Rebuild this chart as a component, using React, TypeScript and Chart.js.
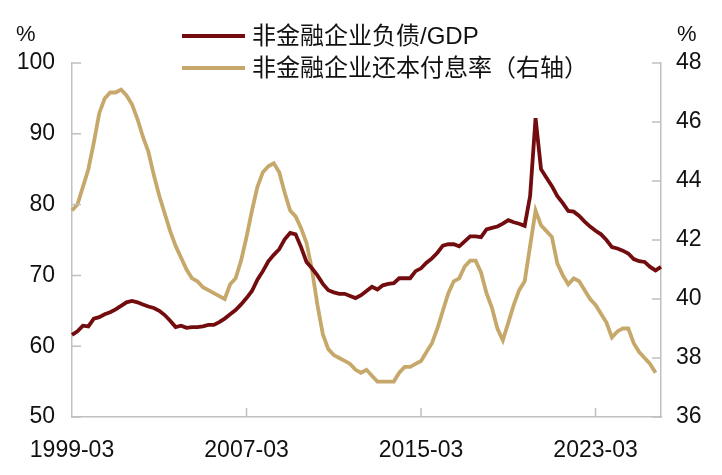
import { useEffect, useRef } from "react";
import { Chart, registerables } from "chart.js";

Chart.register(...registerables);

// Quarterly categories 1999-03 .. 2026-03
const START_YEAR = 1999;
const END_YEAR = 2026;
const MONTHS = ["03", "06", "09", "12"];
const CATEGORIES: string[] = [];
for (let y = START_YEAR; y <= END_YEAR; y++) {
  for (const m of MONTHS) {
    if (y === END_YEAR && m !== "03") break;
    CATEGORIES.push(`${y}-${m}`);
  }
}

const X_TICK_LABELS = ["1999-03", "2007-03", "2015-03", "2023-03"];

const DEBT_LABEL = "非金融企业负债/GDP";
const DEBT_GDP = [
  61.6, 62.1, 62.9, 62.8, 63.9, 64.1, 64.5, 64.8, 65.2, 65.7,
  66.2, 66.4, 66.2, 65.9, 65.6, 65.4, 65.0, 64.4, 63.6, 62.7,
  62.9, 62.6, 62.7, 62.7, 62.8, 63.0, 63.0, 63.4, 63.9, 64.5,
  65.1, 65.9, 66.8, 67.8, 69.4, 70.6, 72.0, 72.9, 73.7, 75.1,
  76.0, 75.8, 74.0, 71.9, 71.0, 70.0, 68.8, 67.9, 67.6, 67.4,
  67.4, 67.1, 66.8, 67.2, 67.8, 68.4, 68.0, 68.6, 68.8, 68.9,
  69.6, 69.6, 69.6, 70.6, 71.0, 71.8, 72.4, 73.2, 74.2, 74.4,
  74.4, 74.1, 74.8, 75.5, 75.5, 75.4, 76.5, 76.7, 76.9, 77.3,
  77.8, 77.5, 77.3, 77.0, 81.2, 92.2, 85.0, 83.8, 82.6, 81.2,
  80.2, 79.1, 79.0, 78.4, 77.6, 76.9, 76.3, 75.8, 75.0, 74.0,
  73.8, 73.5, 73.1, 72.3, 72.0, 71.9, 71.2, 70.7, 71.2,
];

const DSR_LABEL = "非金融企业还本付息率（右轴）";
const DEBT_SERVICE = [
  43.0, 43.2, 43.8, 44.4, 45.3, 46.3, 46.8, 47.0, 47.0, 47.1,
  46.9, 46.6, 46.1, 45.5, 45.0, 44.2, 43.5, 42.9, 42.3, 41.8,
  41.4, 41.0, 40.7, 40.6, 40.4, 40.3, 40.2, 40.1, 40.0, 40.5,
  40.7, 41.3, 42.1, 43.0, 43.8, 44.3, 44.5, 44.6, 44.3, 43.6,
  43.0, 42.8, 42.4, 41.9, 41.0, 39.8, 38.8, 38.3, 38.1, 38.0,
  37.9, 37.8, 37.6, 37.5, 37.6, 37.4, 37.2, 37.2, 37.2, 37.2,
  37.5, 37.7, 37.7, 37.8, 37.9, 38.2, 38.5, 39.0, 39.6, 40.2,
  40.6, 40.7, 41.1, 41.3, 41.3, 40.9, 40.2, 39.7, 39.0, 38.6,
  39.2, 39.8, 40.3, 40.6, 41.8, 43.0, 42.5, 42.3, 42.1, 41.2,
  40.8, 40.5, 40.7, 40.6, 40.3, 40.0, 39.8, 39.5, 39.2, 38.7,
  38.9, 39.0, 39.0, 38.5, 38.2, 38.0, 37.8, 37.5,
];

const LEFT_MIN = 50;
const LEFT_MAX = 100;
const LEFT_STEP = 10;
const RIGHT_MIN = 36;
const RIGHT_MAX = 48;
const RIGHT_STEP = 2;

const RED = "#720c0e";
const GOLD = "#c6a86b";
const AXIS = "#c0c0c0";
const TEXT = "#111111";
const FONT = '"Liberation Sans", "Noto Sans CJK SC", Arial, sans-serif';

const innerTicks = {
  id: "innerTicks",
  afterDraw(chart: any) {
    const ctx = chart.ctx;
    const { x, y, y1 } = chart.scales;
    const len = 9;
    ctx.save();
    ctx.strokeStyle = AXIS;
    ctx.lineWidth = 1.5;
    ctx.beginPath();
    y.ticks.forEach((_t: any, i: number) => {
      const py = y.getPixelForTick(i);
      ctx.moveTo(y.right, py);
      ctx.lineTo(y.right + len, py);
    });
    y1.ticks.forEach((_t: any, i: number) => {
      const py = y1.getPixelForTick(i);
      ctx.moveTo(y1.left, py);
      ctx.lineTo(y1.left - len, py);
    });
    CATEGORIES.forEach((c, i) => {
      if (!X_TICK_LABELS.includes(c) || i === 0) return;
      const px = x.getPixelForValue(i);
      ctx.moveTo(px, x.top);
      ctx.lineTo(px, x.top - len);
    });
    ctx.stroke();
    ctx.restore();
  },
};

export default function App() {
  const ref = useRef<HTMLCanvasElement | null>(null);

  useEffect(() => {
    if (!ref.current) return;
    const tickFont = { family: FONT, size: 23 };
    const chart = new Chart(ref.current, {
      type: "line",
      data: {
        labels: CATEGORIES,
        datasets: [
          {
            label: DEBT_LABEL,
            data: DEBT_GDP,
            borderColor: RED,
            backgroundColor: RED,
            borderWidth: 3.8,
            pointRadius: 0,
            tension: 0,
            yAxisID: "y",
          },
          {
            label: DSR_LABEL,
            data: DEBT_SERVICE,
            borderColor: GOLD,
            backgroundColor: GOLD,
            borderWidth: 3.8,
            pointRadius: 0,
            tension: 0,
            yAxisID: "y1",
          },
        ],
      },
      options: {
        animation: false,
        responsive: true,
        maintainAspectRatio: false,
        layout: { padding: { top: 63, left: 0, right: 0, bottom: 0 } },
        plugins: { legend: { display: false }, tooltip: { enabled: false } },
        scales: {
          x: {
            type: "category",
            offset: false,
            grid: { display: false, drawTicks: false },
            border: { color: AXIS, width: 1.5 },
            ticks: {
              autoSkip: false,
              maxRotation: 0,
              minRotation: 0,
              padding: 20,
              color: TEXT,
              font: tickFont,
              callback: (_v: any, i: number) =>
                X_TICK_LABELS.includes(CATEGORIES[i]) ? CATEGORIES[i] : "",
            },
            afterFit: (s: any) => {
              s.height = 58;
            },
          },
          y: {
            position: "left",
            min: LEFT_MIN,
            max: LEFT_MAX,
            grid: { display: false, drawTicks: false },
            border: { color: AXIS, width: 1.5 },
            ticks: { stepSize: LEFT_STEP, padding: 17, color: TEXT, font: tickFont },
            afterFit: (s: any) => {
              s.width = 72;
            },
          },
          y1: {
            position: "right",
            min: RIGHT_MIN,
            max: RIGHT_MAX,
            grid: { display: false, drawTicks: false },
            border: { color: AXIS, width: 1.5 },
            ticks: { stepSize: RIGHT_STEP, padding: 15, color: TEXT, font: tickFont },
            afterFit: (s: any) => {
              s.width = 61;
            },
          },
        },
      },
      plugins: [innerTicks],
    });
    return () => chart.destroy();
  }, []);

  const legendText: any = {
    position: "absolute",
    left: 252,
    fontFamily: FONT,
    fontSize: 24,
    lineHeight: "30px",
    color: TEXT,
    whiteSpace: "nowrap",
    textSpacingTrim: "space-all",
  };
  const legendLine: React.CSSProperties = {
    position: "absolute",
    left: 182,
    width: 63,
    height: 4,
  };
  const pct: React.CSSProperties = {
    position: "absolute",
    top: 19,
    fontFamily: FONT,
    fontSize: 22,
    lineHeight: "30px",
    color: TEXT,
  };

  return (
    <div
      style={{
        position: "fixed",
        left: 0,
        top: 0,
        width: 722,
        height: 475,
        background: "#ffffff",
      }}
    >
      <canvas ref={ref} />
      <div style={{ ...pct, left: 16 }}>%</div>
      <div style={{ ...pct, left: 677 }}>%</div>
      <div style={{ ...legendLine, top: 34, background: RED }} />
      <div style={{ ...legendText, top: 21 }}>{DEBT_LABEL}</div>
      <div style={{ ...legendLine, top: 66, background: GOLD }} />
      <div style={{ ...legendText, top: 53 }}>{DSR_LABEL}</div>
    </div>
  );
}
